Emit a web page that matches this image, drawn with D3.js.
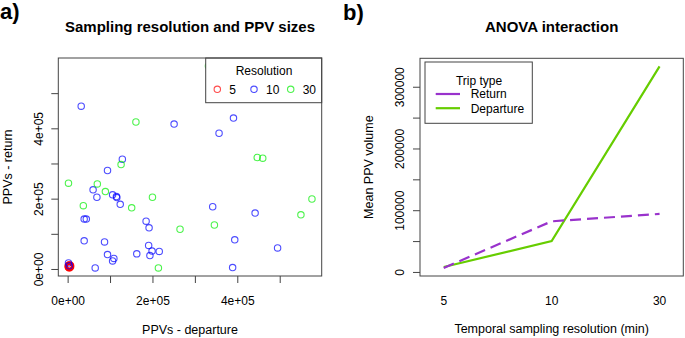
<!DOCTYPE html>
<html><head><meta charset="utf-8">
<script src="https://cdn.jsdelivr.net/npm/d3@7"></script>
<style>
body{margin:0;background:#fff}
text{font-family:"Liberation Sans",Arial,Helvetica,sans-serif;fill:#000}
</style>
</head><body>
<svg id="c" width="685" height="338"></svg>
<script>
// ---------- Panel a data: [PPVs - departure, PPVs - return] ----------
const res5 = [[2000,10000],[4000,7000],[5000,12000],[3000,4000],[6000,6000],[1000,8000],[7000,9000],[4000,3000],
  [3000,11000],[6000,10000],[2000,5000],[5000,4000],[7000,6000],[4000,9000],[3000,8000],[5000,6000],
  [4000,5000],[4000,10000],[2000,7000],[6000,8000],[5000,8000],[3000,6000]];
const res10 = [[32000,463000],[251000,412000],[391000,429000],[357000,386000],[129000,312000],[94000,280000],
  [60000,225000],[69000,204000],[106000,211000],[115000,206000],[116000,203000],[124000,184000],[185000,136000],
  [192000,117000],[39000,142000],[44000,142000],[39000,80000],[87000,77000],[191000,67000],[199000,51000],
  [216000,50000],[194000,38000],[163000,43000],[94000,41000],[109000,30000],[106000,23000],[65000,3000],
  [389000,4000],[342000,177000],[442000,159000],[394000,83000],[495000,60000],[2000,17000],[4000,9000]];
const res30 = [[161000,418000],[126000,297000],[2000,244000],[70000,242000],[89000,220000],[200000,204000],
  [37000,180000],[151000,174000],[265000,113000],[447000,317000],[460000,315000],[576000,199000],
  [550000,154000],[346000,125000],[214000,3000],[332000,577000]];
const resolutionLabels = ["5","10","30"];
const resolutionColors = ["#FF0000","#0000FF","#00EE00"];
const aXTicks = [0,100000,200000,300000,400000,500000];
const aXTickLabels = ["0e+00","","2e+05","","4e+05",""];
const aYTicks = [0,100000,200000,300000,400000,500000];
const aYTickLabels = ["0e+00","","2e+05","","4e+05",""];

// ---------- Panel b data ----------
const bCategories = ["5","10","30"];
const returnMeans = [6500,82000,94000];
const departureMeans = [8000,50000,333000];
const bYTicks = [0,50000,100000,150000,200000,250000,300000];
const bYTickLabels = ["0","","100000","","200000","","300000"];
const tripTypes = ["Return","Departure"];
const tripColors = ["#9932CC","#66CD00"];

const svg = d3.select("#c");
const FONT = 12;

function pad4(ext){const r=ext[1]-ext[0];return [ext[0]-0.04*r, ext[1]+0.04*r];}

// ================= Panel a =================
{
  const L=58.3,R=321.7,T=58,B=276;
  const all=[...res5,...res10,...res30];
  const x=d3.scaleLinear().domain(pad4(d3.extent(all,d=>d[0]))).range([L,R]);
  const y=d3.scaleLinear().domain(pad4(d3.extent(all,d=>d[1]))).range([B,T]);
  const g=svg.append("g");
  const series=[res5,res10,res30];
  series.forEach((s,i)=>{
    g.selectAll(null).data(s).enter().append("circle")
      .attr("cx",d=>x(d[0])).attr("cy",d=>y(d[1])).attr("r",3.2)
      .attr("fill","none").attr("stroke",resolutionColors[i]).attr("stroke-opacity",0.7).attr("stroke-width",1.1);
  });
  // legend
  const lg=g.append("g");
  lg.append("rect").attr("x",205.7).attr("y",T).attr("width",R-205.7).attr("height",102.7-T)
    .attr("fill","#fff").attr("stroke","#444").attr("stroke-width",1);
  lg.append("text").attr("x",264).attr("y",75).attr("text-anchor","middle").attr("font-size",FONT).text("Resolution");
  const lx=[217.3,254,290.7];
  resolutionLabels.forEach((lab,i)=>{
    lg.append("circle").attr("cx",lx[i]).attr("cy",89.3).attr("r",3.2).attr("fill","none")
      .attr("stroke",resolutionColors[i]).attr("stroke-opacity",0.7).attr("stroke-width",1.1);
    lg.append("text").attr("x",lx[i]+12).attr("y",93.6).attr("font-size",FONT).text(lab);
  });
  // box
  g.append("rect").attr("x",L).attr("y",T).attr("width",R-L).attr("height",B-T)
    .attr("fill","none").attr("stroke","#444").attr("stroke-width",1);
  // axes
  const xa=g.append("g").attr("transform",`translate(0,${B})`)
    .call(d3.axisBottom(x).tickValues(aXTicks).tickSize(7).tickFormat((d,i)=>aXTickLabels[i]));
  xa.select(".domain").remove();
  xa.selectAll("line").attr("stroke","#444");
  xa.selectAll("text").attr("y",28.5).attr("dy",0).attr("font-size",FONT).attr("font-family",null);
  const ya=g.append("g").attr("transform",`translate(${L},0)`)
    .call(d3.axisLeft(y).tickValues(aYTicks).tickSize(7).tickFormat((d,i)=>aYTickLabels[i]));
  ya.select(".domain").remove();
  ya.selectAll("line").attr("stroke","#444");
  ya.selectAll("text").attr("x",0).attr("dy",0).attr("text-anchor","middle")
    .attr("transform","translate(-15.3,0) rotate(-90)").attr("font-size",FONT).attr("font-family",null);
  // titles
  svg.append("text").attr("x",0).attr("y",19).attr("font-size",22).attr("font-weight","bold").text("a)");
  svg.append("text").attr("x",(L+R)/2).attr("y",32).attr("text-anchor","middle").attr("font-size",15)
    .attr("font-weight","bold").text("Sampling resolution and PPV sizes");
  svg.append("text").attr("x",(L+R)/2).attr("y",333.5).attr("text-anchor","middle").attr("font-size",12.5).text("PPVs - departure");
  svg.append("text").attr("transform",`translate(11.5,${(T+B)/2}) rotate(-90)`).attr("text-anchor","middle")
    .attr("font-size",12.5).text("PPVs - return");
}

// ================= Panel b =================
{
  const L=420,R=683.3,T=58.3,B=276;
  const idx=bCategories.map((c,i)=>i+1);
  const x=d3.scaleLinear().domain([1-0.22,bCategories.length+0.22]).range([L,R]);
  const y=d3.scaleLinear().domain(pad4(d3.extent([...returnMeans,...departureMeans]))).range([B,T]);
  const g=svg.append("g");
  const line=d3.line().x((d,i)=>x(idx[i])).y(d=>y(d));
  g.append("path").datum(departureMeans).attr("d",line).attr("fill","none")
    .attr("stroke",tripColors[1]).attr("stroke-width",2.2);
  g.append("path").datum(returnMeans).attr("d",line).attr("fill","none")
    .attr("stroke",tripColors[0]).attr("stroke-width",2.2).attr("stroke-dasharray","11,6");
  // box
  g.append("rect").attr("x",L).attr("y",T).attr("width",R-L).attr("height",B-T)
    .attr("fill","none").attr("stroke","#444").attr("stroke-width",1);
  // x labels
  g.selectAll(null).data(bCategories).enter().append("text")
    .attr("x",(d,i)=>x(idx[i])).attr("y",304.5).attr("text-anchor","middle").attr("font-size",FONT).text(d=>d);
  // y axis
  const ya=g.append("g").attr("transform",`translate(${L},0)`)
    .call(d3.axisLeft(y).tickValues(bYTicks).tickSize(7).tickFormat((d,i)=>bYTickLabels[i]));
  ya.select(".domain").remove();
  ya.selectAll("line").attr("stroke","#444");
  ya.selectAll("text").attr("x",0).attr("dy",0).attr("text-anchor","middle")
    .attr("transform","translate(-16.5,0) rotate(-90)").attr("font-size",FONT).attr("font-family",null);
  // legend
  const lg=g.append("g");
  lg.append("rect").attr("x",425).attr("y",62).attr("width",107.3).attr("height",61.3)
    .attr("fill","#fff").attr("stroke","#444").attr("stroke-width",1);
  lg.append("text").attr("x",479).attr("y",84.5).attr("text-anchor","middle").attr("font-size",FONT).text("Trip type");
  const rowY=[94,108.2];
  tripTypes.forEach((t,i)=>{
    lg.append("line").attr("x1",435.7).attr("x2",460).attr("y1",rowY[i]).attr("y2",rowY[i])
      .attr("stroke",tripColors[i]).attr("stroke-width",2.2);
    lg.append("text").attr("x",470.7).attr("y",rowY[i]+4.4).attr("font-size",FONT).text(t);
  });
  // titles
  svg.append("text").attr("x",343).attr("y",20).attr("font-size",22).attr("font-weight","bold").text("b)");
  svg.append("text").attr("x",(L+R)/2).attr("y",32).attr("text-anchor","middle").attr("font-size",15)
    .attr("font-weight","bold").text("ANOVA interaction");
  svg.append("text").attr("x",(L+R)/2).attr("y",333).attr("text-anchor","middle").attr("font-size",12.5)
    .text("Temporal sampling resolution (min)");
  svg.append("text").attr("transform",`translate(373,${(T+B)/2}) rotate(-90)`).attr("text-anchor","middle")
    .attr("font-size",12.5).text("Mean PPV volume");
}
</script>
</body></html>
